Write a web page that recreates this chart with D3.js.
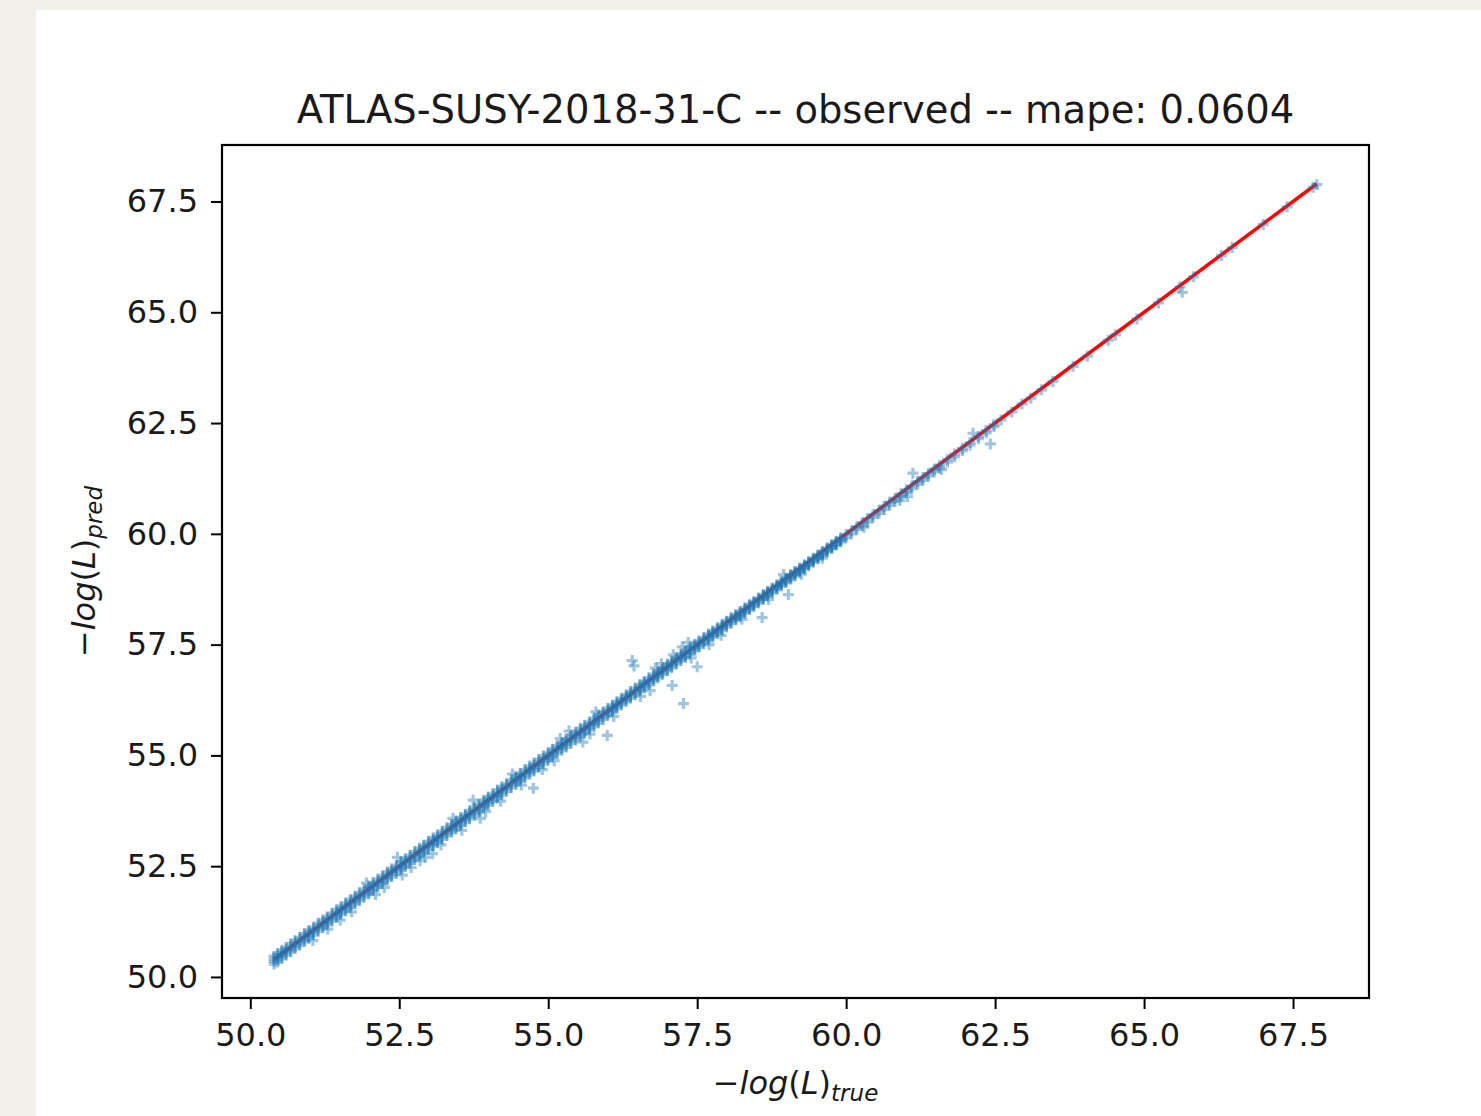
<!DOCTYPE html>
<html>
<head>
<meta charset="utf-8">
<script src="https://cdn.jsdelivr.net/npm/d3@7"></script>
<style>
  body { margin: 0; background: #f2f0e9; }
  svg { display: block; }
  text { font-family: "DejaVu Sans", sans-serif; fill: #1a1a1a; }
</style>
</head>
<body>
<svg id="chart" width="1481" height="1116"></svg>
<script>
// tick values
const xTicks = [50.0, 52.5, 55.0, 57.5, 60.0, 62.5, 65.0, 67.5];
const yTicks = [50.0, 52.5, 55.0, 57.5, 60.0, 62.5, 65.0, 67.5];

// rows of [true, pred, pred, ...] (several points share a true value)
const bandLow = [
  [50.40,50.47,50.41,50.35,50.29],[50.46,50.53,50.47,50.41,50.34],[50.53,50.60,50.54,50.48,50.42],
  [50.60,50.66,50.61,50.55,50.49],[50.68,50.75,50.69,50.63,50.57],[50.75,50.82,50.76,50.70,50.64],
  [50.83,50.89,50.84,50.78,50.72],[50.91,50.98,50.92,50.86,50.80],[50.98,51.05,50.99,50.93,50.87],
  [51.06,51.12,51.07,51.01,50.95],[51.14,51.21,51.15,51.09,51.03],[51.22,51.29,51.23,51.17,51.11],
  [51.29,51.35,51.30,51.24,51.18],[51.37,51.44,51.38,51.32,51.26],[51.45,51.52,51.46,51.40,51.34],
  [51.52,51.58,51.53,51.47,51.41],[51.60,51.67,51.61,51.55,51.49],[51.68,51.75,51.69,51.63,51.57],
  [51.76,51.82,51.77,51.71,51.65],[51.83,51.90,51.84,51.78,51.72],[51.91,51.98,51.92,51.86,51.80],
  [51.99,52.05,52.00,51.94,51.88],[52.06,52.13,52.07,52.01,51.95],[52.14,52.21,52.15,52.09,52.03],
  [52.22,52.28,52.23,52.17,52.11],[52.30,52.37,52.31,52.25,52.19],[52.37,52.44,52.38,52.32,52.26],
  [52.45,52.51,52.46,52.40,52.34],[52.53,52.60,52.54,52.48,52.42],[52.60,52.67,52.61,52.55,52.49],
  [52.68,52.74,52.69,52.63,52.57],[52.76,52.83,52.77,52.71,52.65],[52.84,52.91,52.85,52.79,52.73],
  [52.91,52.97,52.92,52.86,52.80],[52.99,53.06,53.00,52.94,52.88]
];

const bandMid = [
  [53.07,53.14,53.08,53.02,52.96],[53.14,53.20,53.15,53.09,53.03],[53.22,53.29,53.23,53.17,53.11],
  [53.30,53.37,53.31,53.25,53.19],[53.38,53.44,53.39,53.33,53.27],[53.45,53.52,53.46,53.40,53.34],
  [53.53,53.60,53.54,53.48,53.42],[53.61,53.67,53.62,53.56,53.50],[53.68,53.75,53.69,53.63,53.57],
  [53.76,53.83,53.77,53.71,53.65],[53.84,53.90,53.85,53.79,53.73],[53.92,53.99,53.93,53.87,53.81],
  [53.99,54.06,54.00,53.94,53.88],[54.07,54.13,54.08,54.02,53.96],[54.15,54.22,54.16,54.10,54.04],
  [54.22,54.29,54.23,54.17,54.11],[54.30,54.36,54.31,54.25,54.19],[54.38,54.45,54.39,54.33,54.27],
  [54.46,54.53,54.47,54.41,54.35],[54.53,54.59,54.54,54.48,54.42],[54.61,54.68,54.62,54.56,54.50],
  [54.69,54.76,54.70,54.64,54.58],[54.76,54.82,54.77,54.71,54.65],[54.84,54.91,54.85,54.79,54.73],
  [54.92,54.99,54.93,54.87,54.81],[55.00,55.06,55.01,54.95,54.89],[55.07,55.14,55.08,55.02,54.96],
  [55.15,55.22,55.16,55.10,55.04],[55.23,55.29,55.24,55.18,55.12],[55.30,55.37,55.31,55.25,55.19],
  [55.38,55.45,55.39,55.33,55.27],[55.46,55.52,55.47,55.41,55.35],[55.54,55.61,55.55,55.49,55.43],
  [55.61,55.68,55.62,55.56,55.50],[55.69,55.75,55.70,55.64,55.58],[55.77,55.84,55.78,55.72,55.66],
  [55.84,55.91,55.85,55.79,55.73],[55.92,55.98,55.93,55.87,55.81]
];

const bandHigh = [
  [56.00,56.06,56.01,55.96,55.91],[56.08,56.14,56.09,56.04,55.99],[56.15,56.21,56.16,56.11,56.06],
  [56.23,56.29,56.24,56.19,56.14],[56.31,56.37,56.32,56.27,56.22],[56.38,56.44,56.39,56.34,56.29],
  [56.46,56.52,56.47,56.42,56.37],[56.54,56.60,56.55,56.50,56.45],[56.61,56.67,56.62,56.57,56.52],
  [56.69,56.75,56.70,56.65,56.60],[56.77,56.83,56.78,56.73,56.68],[56.84,56.90,56.85,56.80,56.75],
  [56.92,56.98,56.93,56.88,56.83],[57.00,57.06,57.01,56.96,56.91],[57.07,57.13,57.08,57.03,56.98],
  [57.15,57.21,57.16,57.11,57.06],[57.23,57.29,57.24,57.19,57.14],[57.30,57.36,57.31,57.26,57.21],
  [57.38,57.44,57.39,57.34,57.29],[57.46,57.51,57.47,57.42,57.37],[57.53,57.58,57.54,57.49,57.44],
  [57.61,57.66,57.62,57.57,57.52],[57.69,57.74,57.70,57.65,57.60],[57.76,57.81,57.77,57.72,57.67],
  [57.84,57.88,57.84,57.80,57.75],[57.92,57.96,57.92,57.88,57.83],[57.99,58.03,57.99,57.95,57.90],
  [58.07,58.11,58.07,58.03,57.98],[58.15,58.18,58.14,58.10,58.06],[58.22,58.25,58.21,58.17,58.13],
  [58.30,58.33,58.29,58.25,58.21],[58.38,58.41,58.37,58.33,58.29],[58.45,58.47,58.44,58.40,58.36],
  [58.53,58.55,58.52,58.48,58.44],[58.61,58.63,58.60,58.56,58.52],[58.68,58.70,58.67,58.63,58.59],
  [58.76,58.78,58.75,58.71,58.67],[58.84,58.85,58.82,58.79,58.75],[58.91,58.92,58.89,58.86,58.82],
  [58.99,59.00,58.97,58.94,58.90],[59.07,59.08,59.05,59.02,58.98],[59.14,59.15,59.12,59.09,59.05],
  [59.22,59.23,59.20,59.17,59.13],[59.30,59.30,59.27,59.24,59.21],[59.37,59.37,59.34,59.31,59.28],
  [59.45,59.45,59.42,59.39,59.36],[59.53,59.53,59.50,59.47,59.44],[59.60,59.60,59.57,59.54,59.51],
  [59.68,59.68,59.65,59.62,59.59],[59.76,59.76,59.73,59.70,59.67],[59.83,59.83,59.80,59.77,59.74],
  [59.91,59.91,59.88,59.85,59.82]
];

const bandTop = [
  [60.00,59.98,59.91],[60.09,60.07,60.00],[60.18,60.16,60.10],[60.27,60.25,60.18],
  [60.36,60.34,60.27],[60.45,60.43,60.37],[60.55,60.53,60.46],[60.64,60.62,60.55],
  [60.73,60.71,60.65],[60.82,60.80,60.73],[60.92,60.90,60.84],[61.01,60.99,60.93],
  [61.10,61.08,61.02],[61.20,61.18,61.12],[61.29,61.27,61.21],[61.38,61.36,61.30],
  [61.48,61.46,61.40],[61.57,61.55,61.49],[61.70,61.68,61.62],[61.82,61.80,61.74],
  [61.95,61.93,61.88],[62.08,62.06,62.00],[62.22,62.20,62.15],[62.35,62.33,62.28],
  [62.48,62.46,62.42]
];

// sparse points along the upper end of the line, [true, pred]
const tail = [
  [62.60,62.57],[62.78,62.75],[62.95,62.93],[63.10,63.06],[63.28,63.25],[63.47,63.44],
  [63.81,63.78],[64.05,64.01],[64.40,64.37],[64.52,64.49],[64.88,64.85],[65.24,65.21],
  [65.60,65.57],[65.83,65.80],[66.30,66.28],[66.48,66.46],[67.00,66.98],[67.40,67.38],
  [67.84,67.82],[67.90,67.88]
];

// loose points just off the edges of the band, [true, pred]
const fringe = [
  [51.05,50.82],[51.30,51.08],[51.70,51.47],[51.95,52.12],[52.25,52.02],[52.70,52.47],
  [52.85,52.62],[53.20,52.98],[53.40,53.58],[53.55,53.31],[53.95,53.73],[54.20,53.97],
  [54.40,54.58],[54.55,54.33],[54.90,54.68],[55.10,54.88],[55.35,55.55],[55.70,55.48],
  [55.80,55.98],[56.10,55.88],[56.55,56.33],[56.80,56.97],[57.10,57.27],[57.40,57.20],
  [57.90,57.71],[58.25,58.07],[58.70,58.52],[59.25,59.09],[59.60,59.45],[60.30,60.15],
  [60.90,60.75],[61.60,61.45]
];

// points away from the band, [true, pred]
const outliers = [
  [56.41,57.14],[56.44,57.02],[57.08,56.58],[57.27,56.17],[55.99,55.45],[57.50,57.00],
  [56.71,56.46],[58.59,58.11],[59.03,58.63],[54.75,54.26],[53.86,53.58],[52.55,52.30],
  [52.94,52.70],[53.06,52.78],[51.51,51.28],[52.10,51.86],[52.47,52.70],[53.74,53.99],
  [62.42,62.03],[61.12,61.37],[62.13,62.27],[61.03,60.84],[65.64,65.45],[55.20,55.38],
  [56.90,57.07],[55.58,55.30],[57.70,57.50],[58.95,59.08],[57.25,57.45],[57.35,57.55]
];

const rows = [].concat(bandLow, bandMid, bandHigh, bandTop);
const points = rows.flatMap((r) => r.slice(1).map((p) => [r[0], p]))
  .concat(tail, fringe, outliers);

const svg = d3.select("#chart");

// white card on the page
svg.append("rect")
  .attr("x", 36).attr("y", 10)
  .attr("width", 1481 - 36).attr("height", 1116 - 10)
  .attr("fill", "#ffffff");

const plotLeft = 222, plotRight = 1369, plotTop = 145, plotBottom = 998;

const ext = d3.extent(points, (d) => d[0]);
const pad = (ext[1] - ext[0]) * 0.05;

const x = d3.scaleLinear().domain([ext[0] - pad, ext[1] + pad]).range([plotLeft, plotRight]);
const y = d3.scaleLinear().domain([ext[0] - pad, ext[1] + pad]).range([plotBottom, plotTop]);

// y = x reference line
svg.append("path")
  .datum([ext[0], ext[1]])
  .attr("d", d3.line().x((d) => x(d)).y((d) => y(d)))
  .attr("stroke", "#ff0000")
  .attr("stroke-width", 3.5)
  .attr("fill", "none");

// scatter of '+' markers
svg.append("g")
  .selectAll("path")
  .data(points)
  .enter()
  .append("path")
  .attr("transform", (d) => `translate(${x(d[0])},${y(d[1])})`)
  .attr("d", "M-5.5,0H5.5M0,-5.5V5.5")
  .attr("stroke", "#1f77b4")
  .attr("stroke-width", 3.2)
  .attr("opacity", 0.42);

// axes
const fmt = d3.format(".1f");
const xAxis = svg.append("g")
  .attr("transform", `translate(0,${plotBottom})`)
  .call(d3.axisBottom(x).tickValues(xTicks).tickFormat(fmt).tickSize(11).tickPadding(14));
const yAxis = svg.append("g")
  .attr("transform", `translate(${plotLeft},0)`)
  .call(d3.axisLeft(y).tickValues(yTicks).tickFormat(fmt).tickSize(11).tickPadding(13));

[xAxis, yAxis].forEach((g) => {
  g.select(".domain").remove();
  g.selectAll(".tick line").attr("stroke", "#000").attr("stroke-width", 2);
  g.selectAll(".tick text")
    .style("font-family", "DejaVu Sans, sans-serif")
    .style("font-size", "32px")
    .attr("fill", "#1a1a1a");
});

// frame
svg.append("rect")
  .attr("x", plotLeft).attr("y", plotTop)
  .attr("width", plotRight - plotLeft).attr("height", plotBottom - plotTop)
  .attr("fill", "none")
  .attr("stroke", "#000")
  .attr("stroke-width", 2.2);

// title
svg.append("text")
  .attr("x", (plotLeft + plotRight) / 2)
  .attr("y", 123)
  .attr("text-anchor", "middle")
  .style("font-size", "38.5px")
  .text("ATLAS-SUSY-2018-31-C -- observed -- mape: 0.0604");

// math-ish axis label: −log(L)_sub
function mathLabel(sel, sub) {
  sel.style("font-size", "32px");
  sel.append("tspan").text("\u2212");
  sel.append("tspan").style("font-style", "italic").text("log");
  sel.append("tspan").text("(");
  sel.append("tspan").style("font-style", "italic").text("L");
  sel.append("tspan").text(")");
  sel.append("tspan")
    .style("font-style", "italic")
    .style("font-size", "23px")
    .attr("dy", 7)
    .text(sub);
}

svg.append("text")
  .attr("x", (plotLeft + plotRight) / 2)
  .attr("y", 1094)
  .attr("text-anchor", "middle")
  .call(mathLabel, "true");

svg.append("text")
  .attr("transform", `translate(95,${(plotTop + plotBottom) / 2}) rotate(-90)`)
  .attr("text-anchor", "middle")
  .call(mathLabel, "pred");
</script>
</body>
</html>
